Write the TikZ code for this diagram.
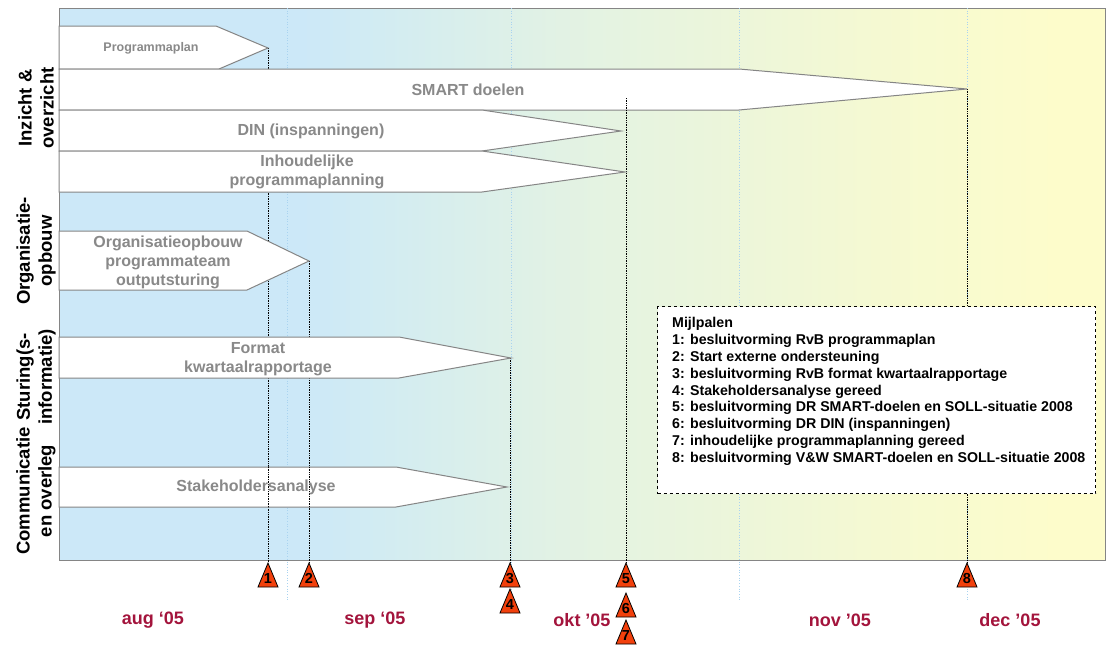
\documentclass[tikz,border=0pt]{standalone}
\usepackage{fontspec}
\setmainfont{Liberation Sans}
\definecolor{bgA}{HTML}{CCE8F8}
\definecolor{bgB}{HTML}{D2ECF2}
\definecolor{bgC}{HTML}{E2F2E4}
\definecolor{bgD}{HTML}{F5F9D2}
\definecolor{bgE}{HTML}{FDFCCB}
\definecolor{txtgray}{HTML}{898989}
\definecolor{boxline}{HTML}{858585}
\definecolor{monthred}{HTML}{A3143C}
\definecolor{gridblue}{HTML}{A9D3F0}
\definecolor{msred}{HTML}{F2400C}
\pgfdeclarehorizontalshading{bgshade}{100bp}{color(0bp)=(bgA); color(25bp)=(bgA); color(36.5bp)=(bgA); color(40.3bp)=(bgB); color(49bp)=(bgC); color(64.2bp)=(bgD); color(72.8bp)=(bgE); color(75bp)=(bgE); color(100bp)=(bgE)}
\newcommand{\mstone}[4]{%
  \fill[msred, draw=black, line width=0.8pt, line join=miter] (#2-10,#3+24) -- (#2,#3) -- (#2+10,#3+24) -- cycle;
  \coordinate (#1top) at (#2,#3);
  \node[msnum] (#1) at (#2,#3+15.5) {#4};}
\begin{document}
\begin{tikzpicture}[x=1pt,y=-1pt,
  frame/.style={draw=boxline, line width=1pt},
  gridline/.style={draw=gridblue, dotted, line width=0.7pt},
  msline/.style={draw=black, densely dotted, line width=0.7pt},
  barbox/.style={draw=boxline, fill=white, line width=1pt, line join=miter},
  bartext/.style={text=txtgray, font=\fontsize{16}{19}\selectfont\bfseries, align=center, inner sep=0pt},
  smalltext/.style={text=txtgray, font=\fontsize{12.5}{15}\selectfont\bfseries, inner sep=0pt},
  rowlabel/.style={rotate=90, font=\fontsize{18.5}{22}\selectfont\bfseries, align=center, inner sep=0pt},
  month/.style={text=monthred, font=\fontsize{18}{22}\selectfont\bfseries, inner sep=0pt},
  msnum/.style={font=\fontsize{14.5}{16}\selectfont\bfseries, inner sep=0pt},
  legbox/.style={draw=black, fill=white, dashed, line width=1.1pt, inner sep=0pt},
  legtext/.style={font=\fontsize{14.2}{16.9}\selectfont\bfseries, align=left, inner sep=0pt}]
\useasboundingbox (0,0) rectangle (1109,645);
% background
\shade[shading=bgshade] (59,8) rectangle (1105,560);
\draw[frame] (59,8) rectangle (1105,560);
% month grid lines
\foreach \gx in {287,511,739,967} \draw[gridline] (\gx,8) -- (\gx,600);
% milestone markers
\mstone{m1}{268}{563}{1}
\mstone{m2}{309}{563}{2}
\mstone{m3}{510}{563}{3}
\mstone{m4}{510}{589}{4}
\mstone{m5}{626}{563}{5}
\mstone{m6}{626}{593}{6}
\mstone{m7}{626}{620}{7}
\mstone{m8}{967}{563}{8}
% task end points
\coordinate (t1) at (268,48);
\coordinate (t2) at (309,261);
\coordinate (t3) at (510,358);
\coordinate (t5) at (626,98);
\coordinate (t8) at (967,89);
\draw[msline] (t1) -- (m1top);
\draw[msline] (t2) -- (m2top);
\draw[msline] (t3) -- (m3top);
\draw[msline] (t5) -- (m5top);
\draw[msline] (t8) -- (m8top);
% bars
\draw[barbox] (59,26) -- (216,26) -- (268,48) -- (219,69) -- (59,69) -- cycle;
\draw[barbox] (59,69) -- (739,69) -- (967,89) -- (739,110) -- (59,110) -- cycle;
\draw[barbox] (59,110) -- (482,110) -- (621,131) -- (482,151) -- (59,151) -- cycle;
\draw[barbox] (59,151) -- (482,151) -- (625,172) -- (482,192) -- (59,192) -- cycle;
\draw[barbox] (59,231) -- (247,231) -- (309,261) -- (247,290) -- (59,290) -- cycle;
\draw[barbox] (59,337) -- (399,337) -- (511,358) -- (399,378) -- (59,378) -- cycle;
\draw[barbox] (59,467) -- (396,467) -- (507,487) -- (396,507) -- (59,507) -- cycle;
% milestone lines visible on top of some bars
\coordinate (s1a) at (268,467); \coordinate (s1b) at (268,507);
\coordinate (s2a) at (309,467); \coordinate (s2b) at (309,507);
\coordinate (s5b) at (626,110);
\draw[msline] (s1a) -- (s1b);
\draw[msline] (s2a) -- (s2b);
\draw[msline] (t5) -- (s5b);
% bar texts
\node[smalltext] (b1) at (151,48) {Programmaplan};
\node[bartext] (b2) at (468,90) {SMART doelen};
\node[bartext] (b3) at (311,131) {DIN (inspanningen)};
\node[bartext] (b4) at (307,172) {Inhoudelijke\\programmaplanning};
\node[bartext] (b5) at (168,262) {Organisatieopbouw\\programmateam\\outputsturing};
\node[bartext] (b6) at (258,359) {Format\\kwartaalrapportage};
\node[bartext] (b7) at (256,487) {Stakeholdersanalyse};
% row labels
\node[rowlabel] (r1) at (36,108) {Inzicht \&\\overzicht};
\node[rowlabel] (r2) at (36,251) {Organisatie-\\opbouw};
\node[rowlabel] (r3) at (36,377) {Sturing(s-\\informatie)};
\node[rowlabel] (r4) at (36,491) {Communicatie\\en overleg};
% months
\node[month] (mo1) at (153,620) {aug ‘05};
\node[month] (mo2) at (375,620) {sep ‘05};
\node[month] (mo3) at (582,620) {okt ’05};
\node[month] (mo4) at (840,620) {nov ’05};
\node[month] (mo5) at (1010,620) {dec ’05};
% legend
\node[legbox, minimum width=438pt, minimum height=187pt, anchor=north west] (legend) at (657,306) {};
\node[legtext, anchor=north west] (legtxt) at (672,317) {Mijlpalen\\
1: besluitvorming RvB programmaplan\\
2: Start externe ondersteuning\\
3: besluitvorming RvB format kwartaalrapportage\\
4: Stakeholdersanalyse gereed\\
5: besluitvorming DR SMART-doelen en SOLL-situatie 2008\\
6: besluitvorming DR DIN (inspanningen)\\
7: inhoudelijke programmaplanning gereed\\
8: besluitvorming V\&W SMART-doelen en SOLL-situatie 2008};
\end{tikzpicture}
\end{document}
